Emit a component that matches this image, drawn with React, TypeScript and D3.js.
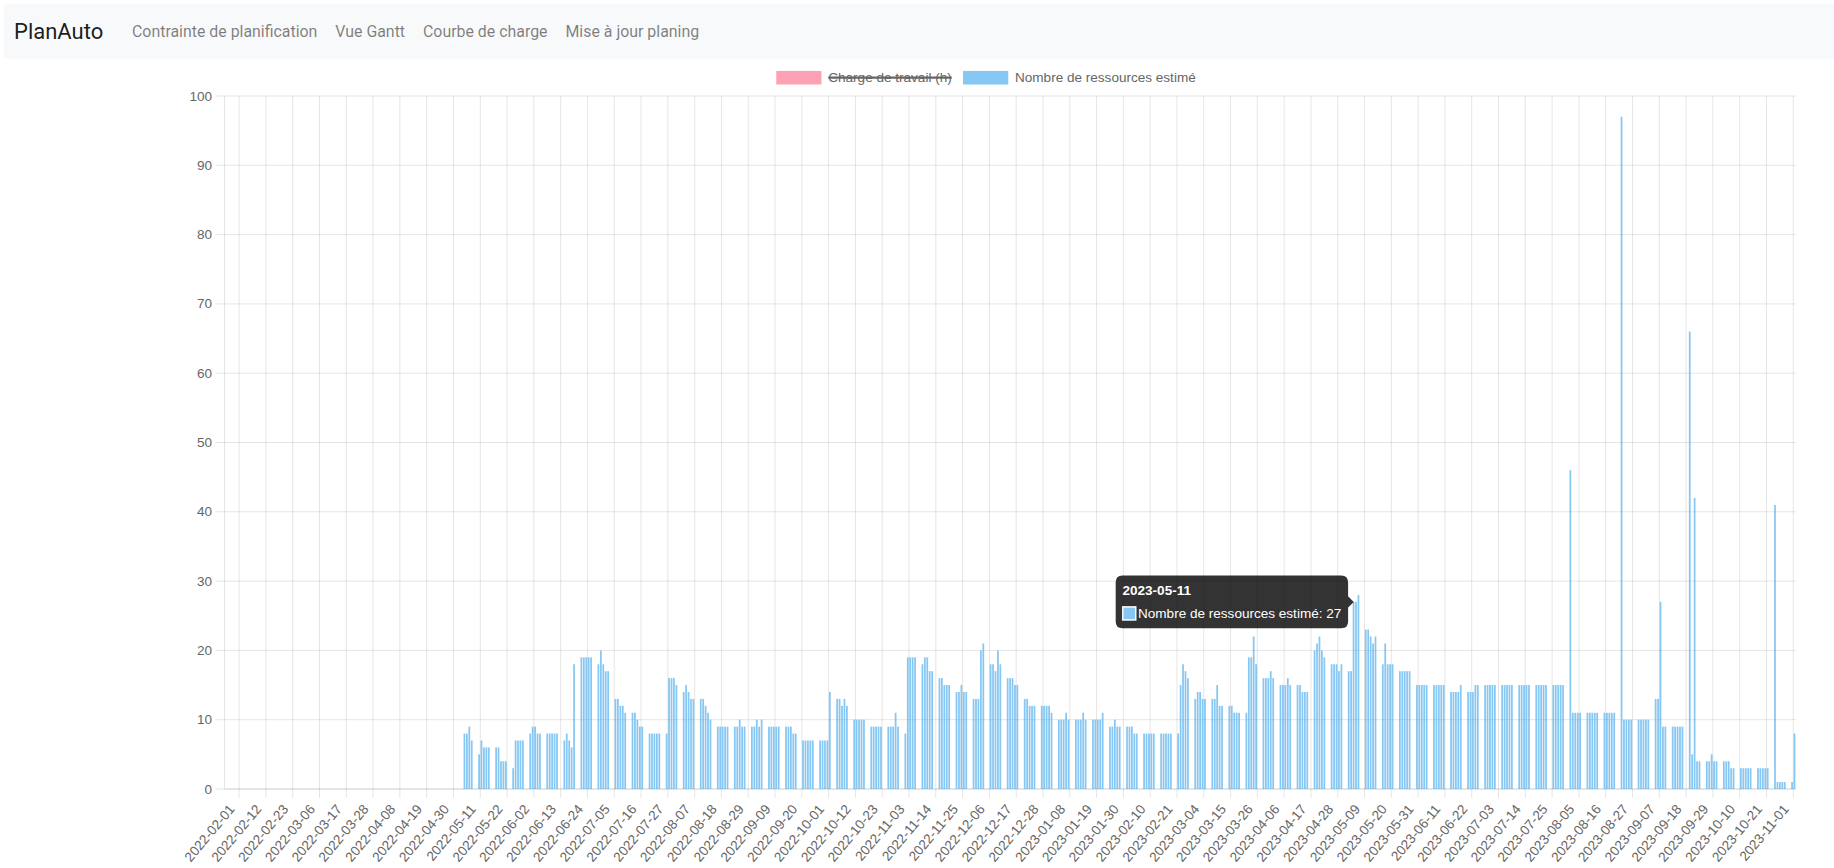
import React from "react";
import * as d3 from "d3";

// ---------------- data ----------------
const firstDay = "2022-02-01";
const lastDay = "2023-11-07";
const firstWeekMonday = "2022-05-09";
// Monday..Friday values of "Nombre de ressources estimé" (weekends are 0)
const weeks2022: number[][] = [
  [0, 8, 8, 9, 7], // 05-09
  [5, 7, 6, 6, 6],
  [6, 6, 4, 4, 4],
  [3, 7, 7, 7, 7],
  [8, 9, 9, 8, 8], // 06-06
  [8, 8, 8, 8, 8],
  [7, 8, 7, 6, 18],
  [19, 19, 19, 19, 19],
  [18, 20, 18, 17, 17], // 07-04
  [13, 13, 12, 12, 11],
  [11, 11, 10, 9, 9],
  [8, 8, 8, 8, 8],
  [8, 16, 16, 16, 15], // 08-01
  [14, 15, 14, 13, 13],
  [13, 13, 12, 11, 10],
  [9, 9, 9, 9, 9],
  [9, 9, 10, 9, 9], // 08-29
  [9, 9, 10, 9, 10],
  [9, 9, 9, 9, 9],
  [9, 9, 9, 8, 8],
  [7, 7, 7, 7, 7], // 09-26
  [7, 7, 7, 7, 14],
  [13, 13, 12, 13, 12],
  [10, 10, 10, 10, 10],
  [9, 9, 9, 9, 9],
  [9, 9, 9, 11, 9], // 10-31
  [8, 19, 19, 19, 19],
  [18, 19, 19, 17, 17],
  [16, 16, 15, 15, 15],
  [14, 14, 15, 14, 14], // 11-28
  [13, 13, 13, 20, 21],
  [18, 18, 17, 20, 18],
  [16, 16, 16, 15, 15],
  [13, 13, 12, 12, 12], // 12-26
];
const weeks2023: number[][] = [
  [12, 12, 12, 12, 11], // 01-02
  [10, 10, 10, 11, 10],
  [10, 10, 10, 11, 10],
  [10, 10, 10, 10, 11],
  [9, 9, 10, 9, 9], // 01-30
  [9, 9, 9, 8, 8],
  [8, 8, 8, 8, 8],
  [8, 8, 8, 8, 8],
  [8, 15, 18, 17, 16], // 02-27
  [13, 14, 14, 13, 13],
  [13, 13, 15, 12, 12],
  [12, 12, 11, 11, 11],
  [11, 19, 19, 22, 18], // 03-27
  [16, 16, 16, 17, 16],
  [15, 15, 15, 16, 15],
  [15, 15, 14, 14, 14],
  [20, 21, 22, 20, 19], // 04-24
  [18, 18, 18, 17, 18],
  [17, 17, 27, 27, 28],
  [23, 23, 22, 21, 22],
  [18, 21, 18, 18, 18],
  [17, 17, 17, 17, 17], // 05-29
  [15, 15, 15, 15, 15],
  [15, 15, 15, 15, 15],
  [14, 14, 14, 14, 15],
  [14, 14, 14, 15, 15], // 06-26
  [15, 15, 15, 15, 15],
  [15, 15, 15, 15, 15],
  [15, 15, 15, 15, 15],
  [15, 15, 15, 15, 15],
  [15, 15, 15, 15, 15], // 07-31
  [46, 11, 11, 11, 11],
  [11, 11, 11, 11, 11],
  [11, 11, 11, 11, 11],
  [97, 10, 10, 10, 10], // 08-28
  [10, 10, 10, 10, 10],
  [13, 13, 27, 9, 9],
  [9, 9, 9, 9, 9],
  [66, 5, 42, 4, 4], // 09-25
  [4, 4, 5, 4, 4],
  [4, 4, 4, 3, 3],
  [3, 3, 3, 3, 3],
  [3, 3, 3, 3, 3],
  [41, 1, 1, 1, 1], // 10-30
  [1, 8],
];
const yTickValues = [0, 10, 20, 30, 40, 50, 60, 70, 80, 90, 100];
const labelStep = 11;
const brand = "PlanAuto";
const navLinks = ["Contrainte de planification", "Vue Gantt", "Courbe de charge", "Mise à jour planing"];
const legendLabels = ["Charge de travail (h)", "Nombre de ressources estimé"];
const legendHidden = [true, false];
const tooltipDay = "2023-05-11";

// ---------------- style / layout ----------------
const W = 1834;
const H = 868;
const S = 1.13; // chart canvas scale
const CHART_FONT = "'Liberation Sans', Arial, Helvetica, sans-serif";
const FS = 12 * S;
const plot = { left: 224.5, right: 1795.7, top: 96, bottom: 789 };
const gridColor = "rgba(0,0,0,0.1)";
const tickColor = "#666";
const seriesFill = ["rgba(255,99,132,0.6)", "rgba(54,162,235,0.6)"];
const legendCenterX = 986;
const legendMidY = 77.7;
const navFontSize = 15.9;
const navGap = 18;

let measureCtx: CanvasRenderingContext2D | null = null;
function measure(text: string, font: string): number {
  if (!measureCtx) measureCtx = document.createElement("canvas").getContext("2d");
  if (!measureCtx) return text.length * 7;
  measureCtx.font = font;
  return measureCtx.measureText(text).width;
}

export default function App() {
  const parse = d3.timeParse("%Y-%m-%d");
  const fmt = d3.timeFormat("%Y-%m-%d");
  const days = d3.timeDay.range(parse(firstDay)!, d3.timeDay.offset(parse(lastDay)!, 1));
  const monday0 = parse(firstWeekMonday)!;
  const weeks = [...weeks2022, ...weeks2023];
  const data = days.map((d) => {
    const n = d3.timeDay.count(monday0, d);
    let v = 0;
    if (n >= 0) {
      const w = Math.floor(n / 7);
      const dow = n % 7;
      const row = weeks[w];
      if (dow < 5 && row && row[dow] != null) v = row[dow];
    }
    return { key: fmt(d), value: v };
  });

  const x = d3.scaleBand<string>().domain(data.map((d) => d.key)).range([plot.left, plot.right]).padding(0);
  const y = d3.scaleLinear().domain([0, 100]).range([plot.bottom, plot.top]);
  const bw = x.bandwidth();
  const center = (k: string) => (x(k) as number) + bw / 2;

  const labelIdx = d3.range(0, data.length, labelStep);
  const half = (labelStep * bw) / 2;
  const gridXs: number[] = labelIdx
    .map((i) => center(data[i].key) - half)
    .filter((v) => v >= plot.left - 0.01);
  gridXs.push(center(data[labelIdx[labelIdx.length - 1]].key) + half);
  const tickLen = 8 * S;
  const tickPad = 3 * S;

  // legend layout
  const legendFont = `${FS}px ${CHART_FONT}`;
  const boxW = 40 * S;
  const itemWidths = legendLabels.map((l) => boxW + FS / 2 + measure(l, legendFont));
  const legendPad = 10 * S;
  const legendTotal = d3.sum(itemWidths) + legendPad * (legendLabels.length - 1);
  let lx = legendCenterX - legendTotal / 2;
  const legendItems = legendLabels.map((l, i) => {
    const item = { label: l, x: lx, tw: measure(l, legendFont), i };
    lx += itemWidths[i] + legendPad;
    return item;
  });

  // tooltip
  const tip = data.find((d) => d.key === tooltipDay)!;
  const tipX = center(tip.key) - 2 * S;
  const tipY = y(tip.value);
  const caret = 5 * S;
  const pad = 6 * S;
  const lh = FS * 1.2;
  const titleFont = `bold ${FS}px ${CHART_FONT}`;
  const bodyText = `${legendLabels[1]}: ${tip.value}`;
  const bodyW = FS + 2 + measure(bodyText, legendFont);
  const titleW = measure(tip.key, titleFont);
  const tw = Math.max(bodyW, titleW) + 2 * pad;
  const th = 2 * pad + lh + 6 * S + lh;
  const tRight = tipX - caret;
  const tLeft = tRight - tw;
  const tTop = tipY - th / 2;
  const r = 6 * S;
  const p = d3.path();
  p.moveTo(tLeft + r, tTop);
  p.lineTo(tRight - r, tTop);
  p.quadraticCurveTo(tRight, tTop, tRight, tTop + r);
  p.lineTo(tRight, tipY - caret);
  p.lineTo(tRight + caret, tipY);
  p.lineTo(tRight, tipY + caret);
  p.lineTo(tRight, tTop + th - r);
  p.quadraticCurveTo(tRight, tTop + th, tRight - r, tTop + th);
  p.lineTo(tLeft + r, tTop + th);
  p.quadraticCurveTo(tLeft, tTop + th, tLeft, tTop + th - r);
  p.lineTo(tLeft, tTop + r);
  p.quadraticCurveTo(tLeft, tTop, tLeft + r, tTop);
  p.closePath();
  const bodyTop = tTop + pad + lh + 6 * S;

  // navbar
  const navFont = `${navFontSize}px Roboto`;
  let nx = 132;
  const navItems = navLinks.map((t) => {
    const it = { t, x: nx };
    nx += measure(t, navFont) + navGap;
    return it;
  });

  return (
    <svg width={W} height={H} style={{ position: "absolute", left: 0, top: 0, display: "block", background: "#fff" }}>
      {/* navbar */}
      <rect x={4} y={4} width={W - 4} height={54.5} fill="#f8f9fa" />
      <text x={14} y={31} dominantBaseline="central" fontFamily="Roboto" fontSize={22} fill="rgba(0,0,0,0.9)">
        {brand}
      </text>
      {navItems.map((n) => (
        <text key={n.t} x={n.x} y={31} dominantBaseline="central" fontFamily="Roboto" fontSize={navFontSize} fill="rgba(0,0,0,0.5)">
          {n.t}
        </text>
      ))}

      {/* legend */}
      {legendItems.map((it) => (
        <g key={it.label}>
          <rect x={it.x} y={legendMidY - FS / 2} width={boxW} height={FS} fill={seriesFill[it.i]} />
          <text
            x={it.x + boxW + FS / 2}
            y={legendMidY}
            dominantBaseline="central"
            fontFamily={CHART_FONT}
            fontSize={FS}
            fill={tickColor}
          >
            {it.label}
          </text>
          {legendHidden[it.i] && (
            <line
              x1={it.x + boxW + FS / 2}
              x2={it.x + boxW + FS / 2 + it.tw}
              y1={legendMidY}
              y2={legendMidY}
              stroke={tickColor}
              strokeWidth={2 * S}
            />
          )}
        </g>
      ))}

      {/* horizontal grid */}
      {yTickValues.map((v) => (
        <g key={v}>
          <line x1={plot.left - tickLen} x2={plot.right} y1={y(v)} y2={y(v)} stroke={gridColor} strokeWidth={1} />
          <text
            x={plot.left - tickLen - tickPad}
            y={y(v)}
            textAnchor="end"
            dominantBaseline="central"
            fontFamily={CHART_FONT}
            fontSize={FS}
            fill={tickColor}
          >
            {v}
          </text>
        </g>
      ))}
      {/* vertical grid */}
      {gridXs.map((gx, i) => (
        <line key={i} x1={gx} x2={gx} y1={plot.top} y2={plot.bottom + tickLen} stroke={gridColor} strokeWidth={1} />
      ))}
      {/* axis borders */}
      <line x1={plot.left} x2={plot.left} y1={plot.top} y2={plot.bottom} stroke={gridColor} strokeWidth={1} />
      <line x1={plot.left} x2={plot.right} y1={plot.bottom} y2={plot.bottom} stroke={gridColor} strokeWidth={1} />

      {/* bars */}
      <g fill={seriesFill[1]}>
        {data
          .filter((d) => d.value > 0)
          .map((d) => (
            <rect key={d.key} x={(x(d.key) as number) + bw * 0.14} width={bw * 0.72} y={y(d.value)} height={y(0) - y(d.value)} />
          ))}
      </g>

      {/* x labels */}
      {labelIdx.map((i) => (
        <g key={i} transform={`translate(${center(data[i].key)},${plot.bottom + tickLen + tickPad}) rotate(-50)`}>
          <text
            x={0}
            y={(FS * 1.2) / 2}
            textAnchor="end"
            dominantBaseline="central"
            fontFamily={CHART_FONT}
            fontSize={FS}
            fill={tickColor}
          >
            {data[i].key}
          </text>
        </g>
      ))}

      {/* tooltip */}
      <path d={p.toString()} fill="rgba(0,0,0,0.8)" />
      <text x={tLeft + pad} y={tTop + pad + lh / 2} dominantBaseline="central" fontFamily={CHART_FONT} fontSize={FS} fontWeight="bold" fill="#fff">
        {tip.key}
      </text>
      <rect x={tLeft + pad} y={bodyTop + (lh - FS) / 2} width={FS} height={FS} fill="#fff" stroke="rgba(255,255,255,0.9)" strokeWidth={1} />
      <rect x={tLeft + pad + 1} y={bodyTop + (lh - FS) / 2 + 1} width={FS - 2} height={FS - 2} fill={seriesFill[1]} />
      <text x={tLeft + pad + FS + 2} y={bodyTop + lh / 2} dominantBaseline="central" fontFamily={CHART_FONT} fontSize={FS} fill="#fff">
        {bodyText}
      </text>
    </svg>
  );
}
